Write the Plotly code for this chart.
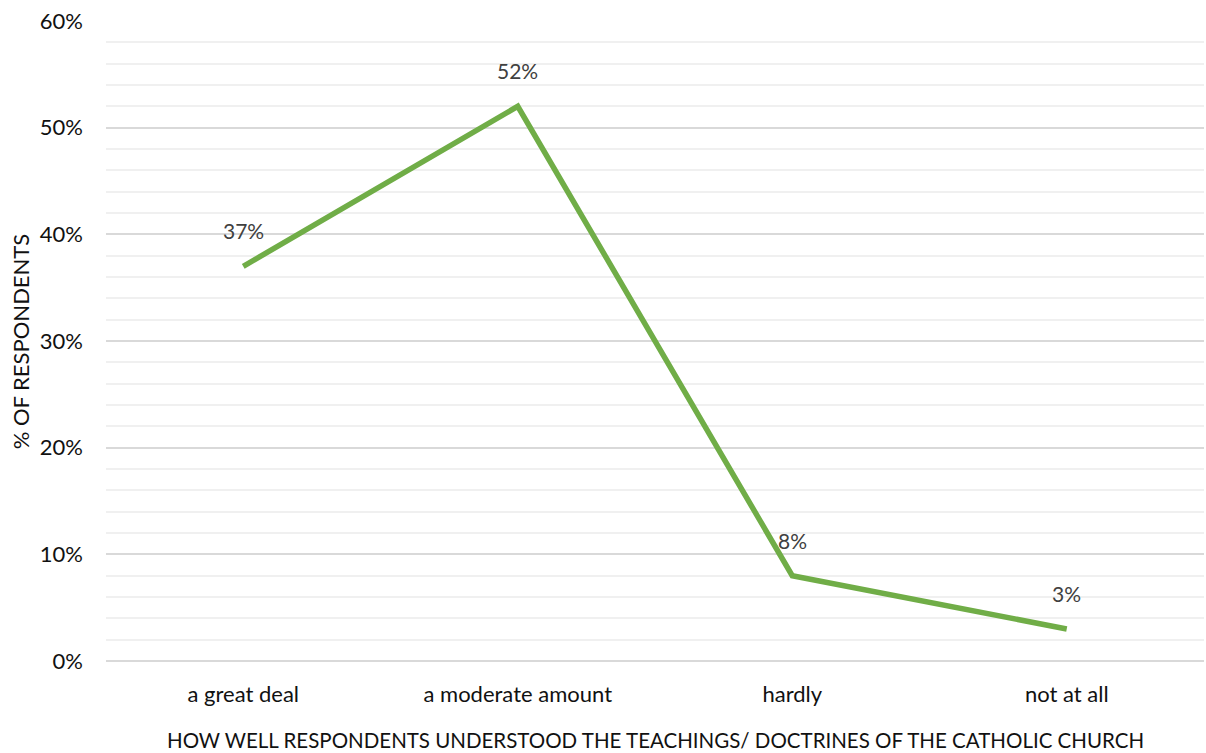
import plotly.graph_objects as go

# Survey responses
categories = ["a great deal", "a moderate amount", "hardly", "not at all"]
shares = [0.37, 0.52, 0.08, 0.03]
y_ticks = [0, 0.1, 0.2, 0.3, 0.4, 0.5, 0.6]
y_tick_labels = ["0%", "10%", "20%", "30%", "40%", "50%", "60%"]

FONT = "Lato, 'Open Sans', sans-serif"
LINE_GREEN = "#70AD47"

fig = go.Figure()
fig.add_trace(go.Scatter(
    x=categories,
    y=shares,
    mode="lines",
    line=dict(color=LINE_GREEN, width=5.5),
    hoverinfo="skip",
    showlegend=False,
))

# Value labels above each point
for cat, val in zip(categories, shares):
    fig.add_annotation(
        x=cat, y=val, text=f"{round(val * 100)}%",
        showarrow=False, yanchor="bottom", yshift=21,
        font=dict(family=FONT, size=21, color="#404040"),
    )

fig.update_layout(
    width=1206, height=753,
    margin=dict(l=106, r=2, t=21, b=92),
    paper_bgcolor="white",
    plot_bgcolor="white",
    font=dict(family=FONT, size=21, color="#111111"),
    xaxis=dict(
        type="category",
        range=[-0.5, 3.5],
        showgrid=False,
        showline=False,
        zeroline=False,
        ticks="",
        ticklabelstandoff=18,
        tickfont=dict(family=FONT, size=22, color="#111111"),
    ),
    yaxis=dict(
        range=[0, 0.6],
        tickvals=y_ticks,
        ticktext=y_tick_labels,
        showgrid=True,
        gridcolor="#D9D9D9",
        gridwidth=1.5,
        zeroline=True,
        zerolinecolor="#D9D9D9",
        zerolinewidth=1.5,
        ticks="",
        ticklabelstandoff=22,
        tickfont=dict(family=FONT, size=22, color="#111111"),
        minor=dict(dtick=0.02, showgrid=True, gridcolor="#F0F0F0", gridwidth=1.5),
    ),
)

fig.add_annotation(
    xref="paper", yref="paper", x=0.5, y=-0.123, yanchor="middle",
    text="HOW WELL RESPONDENTS UNDERSTOOD THE TEACHINGS/ DOCTRINES OF THE CATHOLIC CHURCH",
    showarrow=False, font=dict(family=FONT, size=20.5, color="#111111"),
)
fig.add_annotation(
    xref="paper", yref="paper", x=-0.078, y=0.5, xanchor="center", yanchor="middle",
    text="% OF RESPONDENTS", textangle=-90,
    showarrow=False, font=dict(family=FONT, size=22, color="#111111"),
)

fig.write_html("out.html")
